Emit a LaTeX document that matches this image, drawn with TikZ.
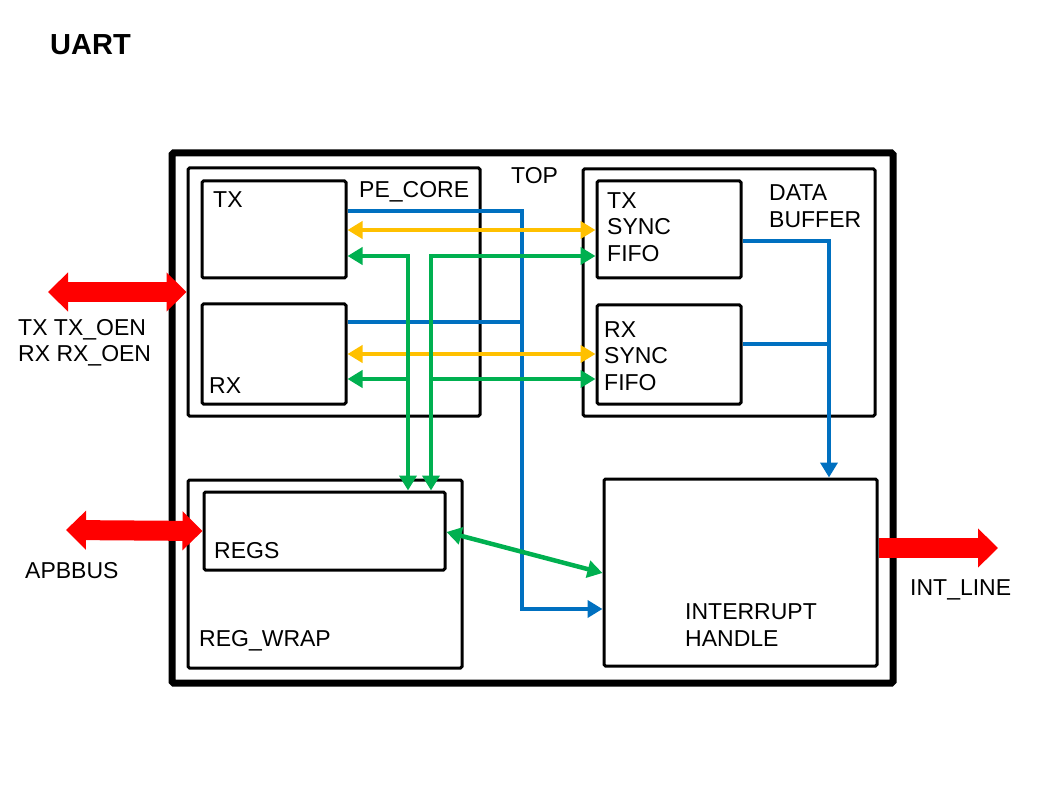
\documentclass[tikz,border=0pt]{standalone}
\usepackage{fontspec}
\setmainfont{Liberation Sans}
\usetikzlibrary{arrows.meta}
\definecolor{busblue}{HTML}{0070C0}
\definecolor{busyellow}{HTML}{FFC000}
\definecolor{busgreen}{HTML}{00B050}
\definecolor{portred}{HTML}{FF0000}
\begin{document}
\begin{tikzpicture}[x=1pt, y=-1pt,
    blk/.style={draw, line width=3pt, rounded corners=1.5pt, inner sep=0pt},
    txt/.style={inner sep=0pt, anchor=west, align=left, font=\fontsize{23}{26.5}\selectfont},
    bline/.style={busblue, line width=4.5pt, -{Triangle[length=15pt,width=17pt]}},
    yline/.style={busyellow, line width=4.5pt, {Triangle[length=15pt,width=17pt]}-{Triangle[length=15pt,width=17pt]}},
    gline/.style={busgreen, line width=4.5pt, -{Triangle[length=15pt,width=17pt]}},
    port/.style={portred, line width=20pt, -{Triangle[length=20pt,width=38pt]}}]
    \useasboundingbox (0,0) rectangle (1058,794);

    % Titolo
    \node[inner sep=0pt, anchor=west, font=\fontsize{29}{34}\selectfont\bfseries] (title) at (50,45) {UART};

    % Blocco TOP
    \node[blk, line width=7pt, minimum width=721pt, minimum height=530pt] (top) at (532.5,418) {};
    \node[txt] (toplbl) at (511,176) {TOP};

    % PE_CORE con TX e RX
    \node[blk, minimum width=292pt, minimum height=248pt] (pecore) at (334,292) {};
    \node[blk, minimum width=144pt, minimum height=97pt] (tx) at (274,229.5) {};
    \node[blk, minimum width=144pt, minimum height=100pt] (rx) at (274,354) {};
    \node[txt] (pelbl) at (359,192) {PE\_CORE};
    \node[txt] (txlbl) at (213,200) {TX};
    \node[txt] (rxlbl) at (209,386) {RX};

    % DATA BUFFER con le due FIFO
    \node[blk, minimum width=292pt, minimum height=247pt] (databuf) at (729,292.5) {};
    \node[blk, minimum width=144pt, minimum height=97pt] (txfifo) at (669,229.5) {};
    \node[blk, minimum width=144pt, minimum height=99pt] (rxfifo) at (669,354.5) {};
    \node[txt] (dblbl) at (769,206) {DATA\\BUFFER};
    \node[txt] (txflbl) at (607,227) {TX\\SYNC\\FIFO};
    \node[txt] (rxflbl) at (604,356) {RX\\SYNC\\FIFO};

    % REG_WRAP con REGS
    \node[blk, minimum width=274pt, minimum height=188pt] (regwrap) at (325,574) {};
    \node[blk, minimum width=241pt, minimum height=78pt] (regs) at (324.5,531) {};
    \node[txt] (regslbl) at (214,551) {REGS};
    \node[txt] (rwlbl) at (199,641) {REG\_WRAP};

    % INTERRUPT HANDLE
    \node[blk, minimum width=273pt, minimum height=187pt] (inthandle) at (740.5,572.5) {};
    \node[txt] (intlbl) at (685,625) {INTERRUPT\\HANDLE};

    % Porte esterne
    \coordinate (pinio) at (48,292);
    \coordinate (pinapb) at (66,530);
    \coordinate (pinint) at (998,548);
    \draw[port, {Triangle[length=20pt,width=38pt]}-{Triangle[length=20pt,width=38pt]}] (pinio) -- (pecore.west);
    \draw[port, {Triangle[length=20pt,width=38pt]}-{Triangle[length=20pt,width=38pt]}] (pinapb) -- (regs.west);
    \draw[port] (inthandle.east |- pinint) -- (pinint);
    \node[txt] (iolbl) at (18,343) {TX TX\_OEN\\RX RX\_OEN};
    \node[txt] (apblbl) at (25,571) {APBBUS};
    \node[txt] (intlnlbl) at (910,590) {INT\_LINE};

    % Linee blu verso INTERRUPT HANDLE
    \coordinate (bjoin) at (522,609);
    \coordinate (bdrop) at (829,241);
    \draw[bline] (tx.east |- 0,211) -| (bjoin) -- (inthandle.west |- bjoin);
    \draw[bline, -] (rx.east |- 0,322) -- (bjoin |- 0,322);
    \draw[bline] (txfifo.east |- bdrop) -| (inthandle.north -| bdrop);
    \draw[bline, -] (rxfifo.east |- 0,344) -- (bdrop |- 0,344);

    % Linee gialle
    \draw[yline] (tx.east |- 0,230) -- (txfifo.west |- 0,230);
    \draw[yline] (rx.east |- 0,354) -- (rxfifo.west |- 0,354);

    % Linee verdi da/verso REGS
    \coordinate (gleft) at (408,379);
    \coordinate (gright) at (431,379);
    \draw[gline, {Triangle[length=15pt,width=17pt]}-{Triangle[length=15pt,width=17pt]}] (tx.east |- 0,256) -| (regs.north -| gleft);
    \draw[gline] (gleft) -- (rx.east |- gleft);
    \draw[gline, {Triangle[length=15pt,width=17pt]}-{Triangle[length=15pt,width=17pt]}] (txfifo.west |- 0,256) -| (regs.north -| gright);
    \draw[gline] (gright) -- (rxfifo.west |- gright);
    \draw[gline, {Triangle[length=15pt,width=17pt]}-{Triangle[length=15pt,width=17pt]}] (regs.east |- 0,532) -- (inthandle.west |- 0,573);

\end{tikzpicture}
\end{document}
